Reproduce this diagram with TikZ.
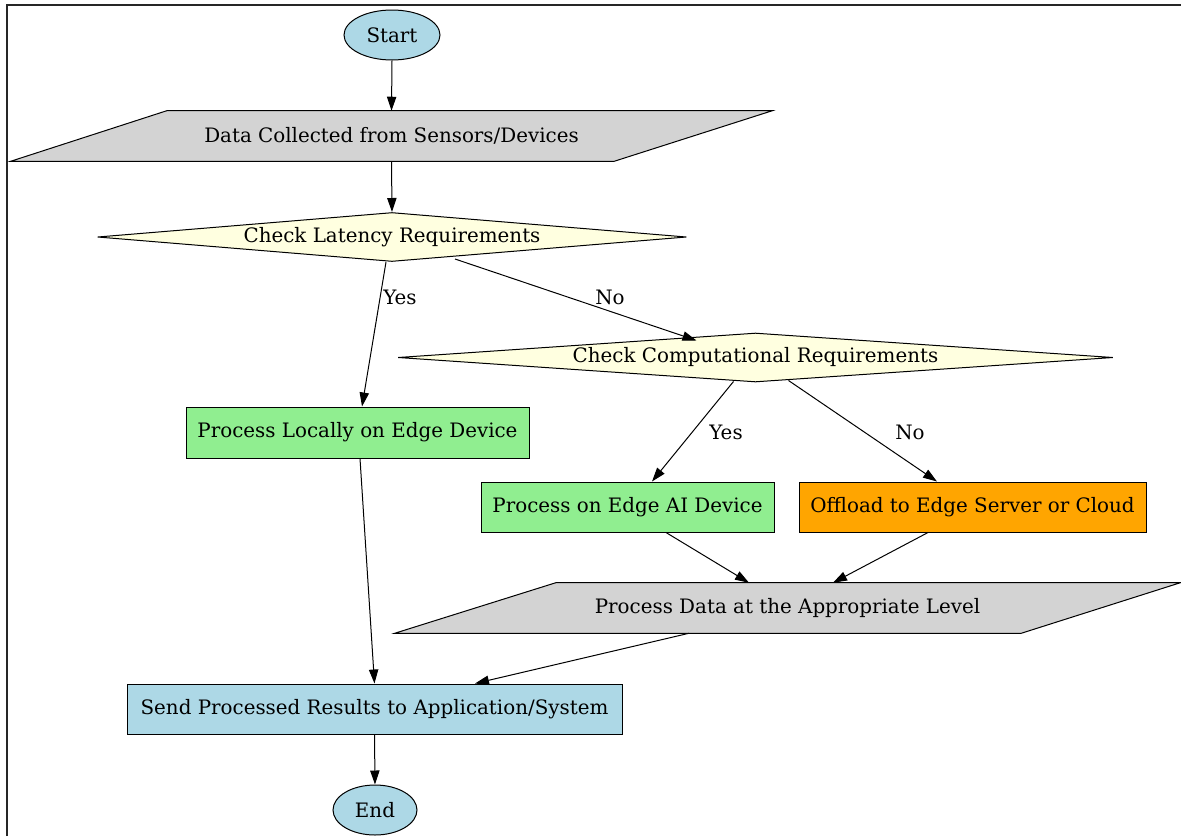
\documentclass[tikz,border=0pt]{standalone}
\usepackage{fontspec}
\setmainfont{DejaVu Serif}
\usetikzlibrary{shapes.geometric,arrows.meta,calc,backgrounds}
\definecolor{termblue}{HTML}{ADD8E6}
\definecolor{iogray}{HTML}{D3D3D3}
\definecolor{decyellow}{HTML}{FFFFE0}
\definecolor{procgreen}{HTML}{90EE90}
\definecolor{cloudorange}{HTML}{FFA500}
\begin{document}
\begin{tikzpicture}[x=0.75pt,y=-0.75pt,
  every node/.style={font=\fontsize{14.9}{17}\selectfont, text=black, inner sep=0pt},
  sz/.style 2 args={minimum width=#1*0.75pt, minimum height=#2*0.75pt},
  outline/.style={draw=black, line width=0.75pt},
  terminal/.style={ellipse, outline, fill=termblue},
  procbox/.style={rectangle, outline},
  decision/.style={diamond, outline, fill=decyellow},
  iobox/.style={rectangle},
  iofill/.style={outline, fill=iogray},
  arr/.style={draw=black, line width=0.75pt, -{Triangle[length=10.5pt,width=7pt]}},
  lbl/.style={inner sep=0pt}
]
\useasboundingbox (0,0) rectangle (1181,836);

% frame
\draw[line width=1.1pt, black!85] (7,836) -- (7,5) -- (1181,5);

% nodes
\node[terminal, sz={96}{50}] (start) at (392,35) {Start};
\node[iobox, sz={761}{50}] (data) at (391.5,136) {Data Collected from Sensors/Devices};
\node[decision, sz={589}{49}, shape aspect=12] (lat) at (392,237) {Check Latency Requirements};
\node[decision, sz={715}{49}, shape aspect=14.6] (comp) at (755.5,357.5) {Check Computational Requirements};
\node[procbox, fill=procgreen, sz={343}{51}] (loc) at (357.5,432.5) {Process Locally on Edge Device};
\node[procbox, fill=procgreen, sz={293}{50}] (ai) at (627.5,507) {Process on Edge AI Device};
\node[procbox, fill=cloudorange, sz={347}{50}] (off) at (972.5,507) {Offload to Edge Server or Cloud};
\node[iobox, sz={785}{50}] (pdata) at (787.5,608) {Process Data at the Appropriate Level};
\node[procbox, fill=termblue, sz={495}{50}] (send) at (374.5,709) {Send Processed Results to Application/System};
\node[terminal, sz={84}{50}] (endn) at (375,810) {End};

% slanted input/output shapes behind their labels
\begin{scope}[on background layer]
  \filldraw[iofill] ($(data.north west)+(156,0)$) -- (data.north east)
     -- ($(data.south east)+(-158,0)$) -- (data.south west) -- cycle;
  \filldraw[iofill] ($(pdata.north west)+(161,0)$) -- (pdata.north east)
     -- ($(pdata.south east)+(-159,0)$) -- (pdata.south west) -- cycle;
\end{scope}

% connectors
\draw[arr] (start.south) -- (data.north);
\draw[arr] (data.south) -- (lat.north);
\draw[arr] ($(lat.south)+(-6,0)$) -- ($(loc.north)+(4.5,0)$);
\draw[arr] ($(lat.center)+(63,22)$) -- ($(comp.center)+(-59,-17)$);
\draw[arr] ($(comp.center)+(-22,24)$) -- ($(ai.north)+(24.5,0)$);
\draw[arr] ($(comp.center)+(33,23)$) -- ($(off.north)+(-35.5,0)$);
\draw[arr] ($(ai.south)+(38.5,0)$) -- ($(pdata.north)+(-38.5,0)$);
\draw[arr] ($(off.south)+(-44.5,0)$) -- ($(pdata.north)+(45.5,0)$);
\draw[arr] ($(loc.south)+(2.5,0)$) -- (send.north);
\draw[arr] ($(pdata.south)+(-98.5,0)$) -- ($(send.north)+(100.5,0)$);
\draw[arr] (send.south) -- (endn.north);

% branch labels
\node[lbl] (yes1) at (400,297) {Yes};
\node[lbl] (no1) at (610,297) {No};
\node[lbl] (yes2) at (726,432) {Yes};
\node[lbl] (no2) at (910,432) {No};
\end{tikzpicture}
\end{document}
